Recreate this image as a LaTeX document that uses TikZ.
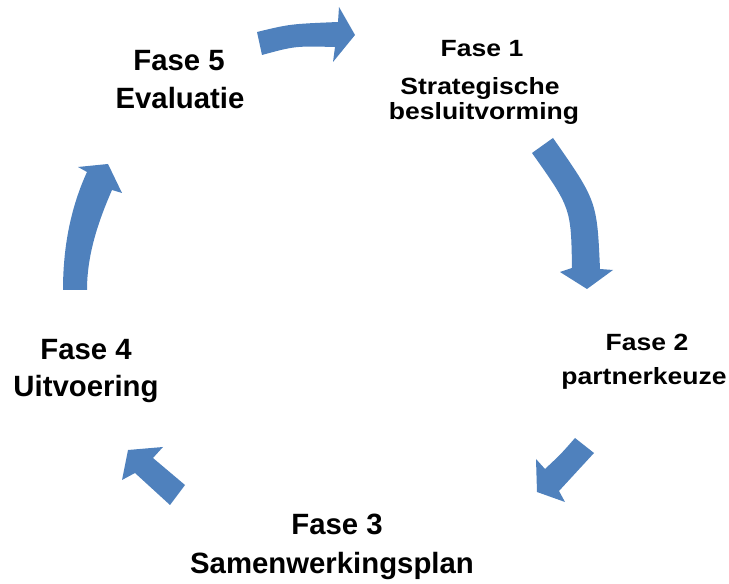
\documentclass[tikz,border=0pt]{standalone}
\usepackage{fontspec}
\setmainfont{Liberation Sans}
\newfontfamily\widefont[FakeStretch=1.13]{Liberation Sans}
\usetikzlibrary{positioning,calc}
\definecolor{arrowblue}{RGB}{79,129,189}

\begin{document}
\begin{tikzpicture}[x=0.75pt,y=-0.75pt,
    blockarrow/.style={fill=arrowblue, draw=none},
    bigtxt/.style={font=\bfseries\fontsize{22}{26}\selectfont, anchor=base, inner sep=0pt},
    smalltxt/.style={font=\widefont\bfseries\fontsize{17.6}{21}\selectfont, anchor=base, inner sep=0pt}]
            \useasboundingbox (0,0) rectangle (729,584);
            % phase labels
            \node[smalltxt] (f1a) at (482,57) {Fase 1};
            \node[smalltxt] (f1b) at (480,95) {Strategische};
            \node[smalltxt] (f1c) at (484,120) {besluitvorming};
            \node[smalltxt] (f2a) at (647,351) {Fase 2};
            \node[smalltxt] (f2b) at (644,385) {partnerkeuze};
            \node[bigtxt] (f3a) at (337,535) {Fase 3};
            \node[bigtxt] (f3b) at (332,574) {Samenwerkingsplan};
            \node[bigtxt] (f4a) at (86,360) {Fase 4};
            \node[bigtxt] (f4b) at (86,397) {Uitvoering};
            \node[bigtxt] (f5a) at (179,71) {Fase 5};
            \node[bigtxt] (f5b) at (180,109) {Evaluatie};
            % arrow 5 -> 1
            \fill[blockarrow] (257,32) .. controls (290,24) .. (338,22) -- (339,7) -- (355,35)
                -- (333,62) -- (335,47) .. controls (295,46) .. (262,55) -- cycle;
            % arrow 1 -> 2
            \fill[blockarrow] (553,138) .. controls (597,201) .. (600,269) -- (613,270) -- (587,289)
                -- (560,272) -- (572,268) .. controls (571,208) .. (532,153) -- cycle;
            % arrow 2 -> 3
            \fill[blockarrow] (575,438) .. controls (561,454) .. (545,469) -- (536,459) -- (537,492)
                -- (565,502) -- (559,491) .. controls (577,472) .. (594,453) -- cycle;
            % arrow 3 -> 4
            \fill[blockarrow] (128,450) -- (163,447) -- (153,458) .. controls (169,471) .. (185,485)
                -- (170,505) .. controls (152,489) .. (135,473) -- (122,480) -- cycle;
            % arrow 4 -> 5
            \fill[blockarrow] (63,290) .. controls (63,249) and (70,209) .. (87,172) -- (78,167) -- (108,164)
                -- (122,193) -- (112,190) .. controls (98,222) and (87,255) .. (87,290) -- cycle;
        \end{tikzpicture}
\end{document}
